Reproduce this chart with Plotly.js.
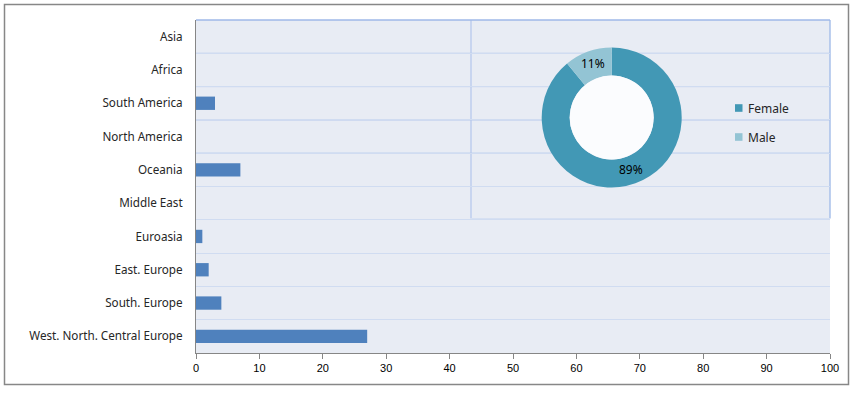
<!DOCTYPE html>
<html>
<head>
<meta charset="utf-8">
<script src="https://cdn.plot.ly/plotly-3.0.1.min.js"></script>
<style>html,body{margin:0;padding:0;background:#fff;}#chart{width:855px;height:393px;}</style>
</head>
<body>
<div id="chart"></div>
<script>
// ---- data ----
const regions = ["Asia", "Africa", "South America", "North America", "Oceania", "Middle East", "Euroasia", "East. Europe", "South. Europe", "West. North. Central Europe"];
const regionCounts = [0, 0, 3, 0, 7, 0, 1, 2, 4, 27];
const genderLabels = ["Female", "Male"];
const genderValues = [89, 11];
const xTickValues = [0, 10, 20, 30, 40, 50, 60, 70, 80, 90, 100];

// ---- layout helpers (pixel -> paper) ----
const W = 855, H = 393;
const M = {l: 196, r: 25, t: 20, b: 40};
const PW = W - M.l - M.r, PH = H - M.t - M.b;
const px = x => (x - M.l) / PW;
const py = y => (H - M.b - y) / PH;

const donutC = {x: 611.7, y: 117.5}, donutR = 70, holeR = 42;
function dom(r) {
  return {x: [px(donutC.x - r), px(donutC.x + r)], y: [py(donutC.y + r), py(donutC.y - r)]};
}

const barColor = "#4f81bd";
const genderColors = ["#4298b5", "#93c4d4"];

const traces = [
  {
    type: "bar", orientation: "h",
    y: regions, x: regionCounts,
    marker: {color: barColor}, width: 0.4,
    showlegend: false, hoverinfo: "x+y"
  },
  {
    type: "pie", labels: genderLabels, values: genderValues,
    hole: holeR / donutR, sort: false, direction: "clockwise", rotation: 0,
    marker: {colors: genderColors, line: {width: 0}},
    textinfo: "none",
    domain: dom(donutR), showlegend: false
  },
  {
    type: "pie", labels: ["hole"], values: [1],
    marker: {colors: ["#fbfcfe"], line: {width: 0}},
    textinfo: "none", hoverinfo: "skip", showlegend: false,
    domain: dom(holeR)
  }
];

const shapes = [];
// stronger grid lines in upper region
for (let k = 0; k < 5; k++) {
  shapes.push({type: "line", xref: "paper", x0: 0, x1: 1, yref: "y", y0: k + 0.5, y1: k + 0.5,
    line: {color: "#a9c0ea", width: 1}, layer: "below"});
}
const insetL = px(471), insetB = py(218.5);
// top border, inset borders
shapes.push({type: "line", xref: "paper", yref: "paper", x0: 0, x1: 1, y0: 1, y1: 1, line: {color: "#9fb9e8", width: 1.5}, layer: "above"});
shapes.push({type: "line", xref: "paper", yref: "paper", x0: 1, x1: 1, y0: insetB, y1: 1, line: {color: "#a9c0ea", width: 1.5}, layer: "below"});
shapes.push({type: "line", xref: "paper", yref: "paper", x0: insetL, x1: insetL, y0: insetB, y1: 1, line: {color: "#b3c7ec", width: 1.2}, layer: "below"});
shapes.push({type: "line", xref: "paper", yref: "paper", x0: insetL, x1: 1, y0: insetB, y1: insetB, line: {color: "#d6e0f2", width: 1}, layer: "below"});
// outer chart border
shapes.push({type: "rect", xref: "paper", yref: "paper", x0: px(4.5), x1: px(848.5), y0: py(384.5), y1: py(4.5),
  line: {color: "#878787", width: 1.5}, fillcolor: "rgba(0,0,0,0)"});
// legend squares
const legY = [108, 137];
genderLabels.forEach((lab, i) => {
  shapes.push({type: "rect", xref: "paper", yref: "paper", x0: px(735), x1: px(742.5), y0: py(legY[i] + 3.8), y1: py(legY[i] - 3.8),
    line: {width: 0}, fillcolor: genderColors[i]});
});
const annotations = genderLabels.map((lab, i) => ({
  text: lab, xref: "paper", yref: "paper", x: px(745.5), y: py(legY[i]), xanchor: "left", yanchor: "middle",
  showarrow: false, font: {family: "Noto Sans, sans-serif", size: 12, color: "#262626"}
}));
// percentage labels at each slice's mid-angle (clockwise from 12 o'clock)
const total = genderValues.reduce((a, b) => a + b, 0);
let cum = 0;
const labR = (donutR + holeR) / 2;
genderValues.forEach(v => {
  const mid = (cum + v / 2) / total * 2 * Math.PI;
  cum += v;
  annotations.push({
    text: Math.round(v / total * 100) + "%", xref: "paper", yref: "paper",
    x: px(donutC.x + labR * Math.sin(mid)), y: py(donutC.y - labR * Math.cos(mid) - 1),
    xanchor: "center", yanchor: "middle", showarrow: false,
    font: {family: "Noto Sans, sans-serif", size: 12, color: "#000"}
  });
});

const layout = {
  width: W, height: H,
  margin: M,
  paper_bgcolor: "#ffffff",
  plot_bgcolor: "#e8ecf4",
  showlegend: false,
  xaxis: {
    range: [0, 100], tickvals: xTickValues, ticktext: xTickValues.map(String),
    showgrid: false, zeroline: false,
    showline: true, linecolor: "#868686", linewidth: 1,
    ticks: "outside", ticklen: 5, tickcolor: "#868686",
    tickfont: {family: "Liberation Sans, sans-serif", size: 11, color: "#000"},
    fixedrange: true
  },
  yaxis: {
    type: "category", autorange: "reversed",
    tickson: "boundaries", ticks: "", showgrid: true, gridcolor: "#d0dcf1", gridwidth: 1,
    showline: true, linecolor: "#868686", linewidth: 1,
    ticklabelstandoff: 10,
    tickfont: {family: "Noto Sans, sans-serif", size: 11.7, color: "#262626"},
    fixedrange: true
  },
  bargap: 0.6,
  shapes: shapes,
  annotations: annotations
};

Plotly.newPlot("chart", traces, layout, {displayModeBar: false, staticPlot: true});
</script>
</body>
</html>
